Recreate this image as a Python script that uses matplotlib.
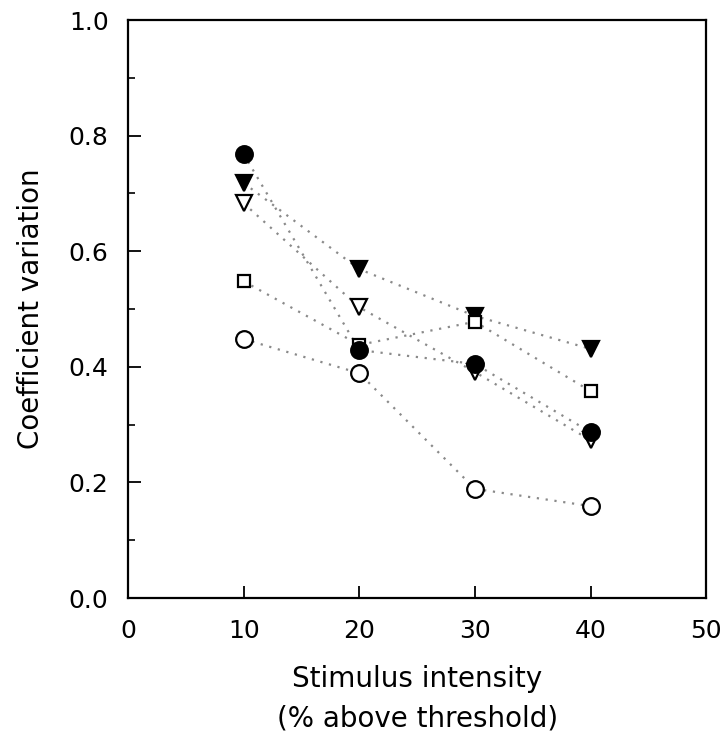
import matplotlib
matplotlib.use("Agg")
import matplotlib.pyplot as plt
from matplotlib.ticker import MultipleLocator

intensity = [10, 20, 30, 40]
filled_circle = [0.768, 0.429, 0.405, 0.287]
filled_tri = [0.718, 0.569, 0.488, 0.431]
open_tri = [0.683, 0.503, 0.391, 0.273]
open_square = [0.548, 0.438, 0.478, 0.358]
open_circle = [0.448, 0.389, 0.189, 0.159]

plt.rcParams['font.family'] = ['DejaVu Sans']
fig = plt.figure(figsize=(7.21, 7.42), dpi=100)
ax = fig.add_axes([0.1775, 0.194, 0.802, 0.779])

series = [
    (filled_tri, 'v', 'black', 11),
    (open_square, 's', 'white', 9),
    (open_circle, 'o', 'white', 12),
    (open_tri, 'v', 'white', 11),
    (filled_circle, 'o', 'black', 12),
]
for vals, m, fc, ms in series:
    ax.plot(intensity, vals, linestyle=(0, (1, 3)), color='#8a8a8a', linewidth=1.6, zorder=1)
for vals, m, fc, ms in series:
    ax.plot(intensity, vals, linestyle='none', marker=m, markersize=ms,
            markerfacecolor=fc, markeredgecolor='black', markeredgewidth=1.6, zorder=3)

ax.set_xlim(0, 50)
ax.set_ylim(0, 1.0)
ax.xaxis.set_major_locator(MultipleLocator(10))
ax.yaxis.set_major_locator(MultipleLocator(0.2))
ax.yaxis.set_minor_locator(MultipleLocator(0.1))
ax.yaxis.set_major_formatter(plt.FuncFormatter(lambda v, p: f"{v:.1f}"))
ax.tick_params(axis='both', direction='in', length=9, width=1.3, labelsize=18)
ax.tick_params(axis='x', pad=15)
ax.tick_params(axis='y', pad=14)
ax.tick_params(axis='y', which='minor', direction='in', length=5, width=1.2)
ax.tick_params(top=False, right=False)
for s in ax.spines.values():
    s.set_linewidth(1.6)

ax.set_ylabel('Coefficient variation', fontsize=20, labelpad=17)
ax.set_xlabel('Stimulus intensity\n(% above threshold)', fontsize=20, labelpad=16, linespacing=1.5)

fig.savefig('out.png', dpi=100)
